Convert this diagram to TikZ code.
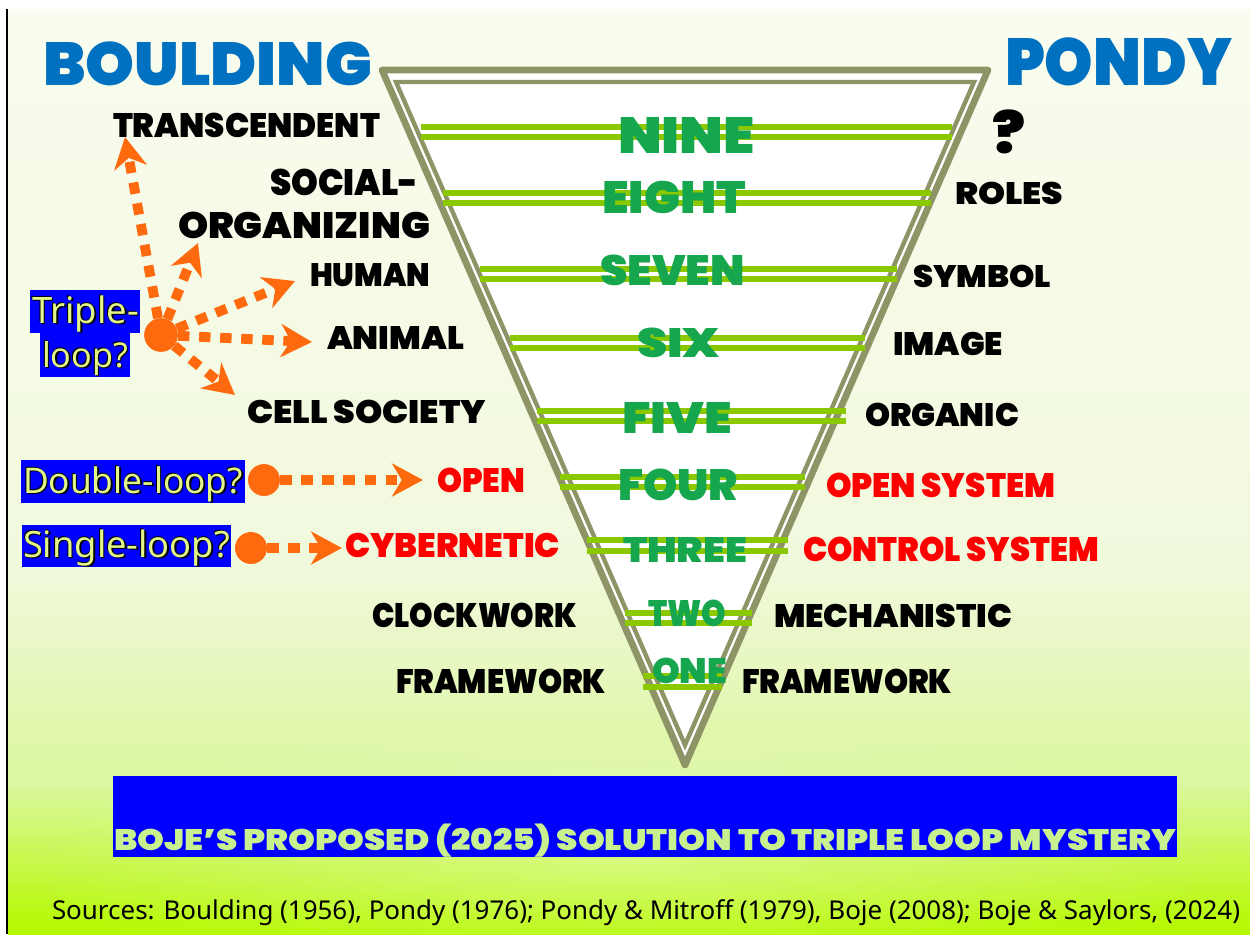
\documentclass[tikz,border=0pt]{standalone}
\usepackage{fontspec}
\usepackage{graphicx}
\usetikzlibrary{arrows.meta,fadings}

\newfontfamily\dispfont{Poppins}[UprightFont=* Black]
\newfontfamily\plainfont{Noto Sans}

% one drawing unit
\newlength\pxu \setlength\pxu{0.02cm}
\newlength\capht
% box whose height is the cap height of the current font
\newcommand\capbox[1]{\settoheight\capht{E}\raisebox{0pt}[\capht][0pt]{#1}}
% display text fitted to a given width and cap height
\newcommand\disp[3]{\resizebox{#1\pxu}{#2\pxu}{\dispfont\capbox{#3}}}
% light text with a dark edge
\newcommand\calltxt[1]{\plainfont\rlap{\color{black}\kern0.045em\raisebox{-0.045em}{#1}}\rlap{\color{black}\kern-0.02em\raisebox{0.02em}{#1}}\textcolor{calltext}{#1}}

\definecolor{bgA}{HTML}{F9FCEF}
\definecolor{bgB}{HTML}{F1F9DD}
\definecolor{bgC}{HTML}{DCF7A0}
\definecolor{bgD}{HTML}{B5F900}
\definecolor{trioli}{HTML}{8F9467}
\definecolor{titleblue}{HTML}{0070C0}
\definecolor{lvlgreen}{HTML}{16A64E}
\definecolor{barline}{HTML}{8CC800}
\definecolor{arrorange}{HTML}{FF6A0F}
\definecolor{calltext}{HTML}{E2F58A}
\definecolor{boxblue}{HTML}{0000FF}
\definecolor{bannertext}{HTML}{C8F08E}
\definecolor{hotred}{HTML}{FF0000}

\tikzfading[name=glowfade, inner color=transparent!0, outer color=transparent!100]

\tikzset{
  lbl/.style={anchor=base west, inner sep=0pt, outer sep=0pt},
  lvlbar/.style={barline, line width=3pt},
  orangearrow/.style={arrorange, line width=5.6pt, dash pattern=on 6.5pt off 5.5pt,
    -{Stealth[length=17.6pt, width=18.7pt, inset=5.5pt]}},
  dot/.style={circle, fill=arrorange, inner sep=0pt, minimum size=19pt},
}

\begin{document}
\begin{tikzpicture}[x=0.02cm, y=-0.02cm]
\useasboundingbox (0,0) rectangle (1250,934);
\fill[white] (0,0) rectangle (1250,934);

% background: vertical blend in three bands
\foreach \i in {0,...,29}{
  \pgfmathsetmacro\ya{9+\i*551/30}
  \pgfmathsetmacro\pc{100-100*\i/29}
  \fill[bgA!\pc!bgB] (8,\ya) rectangle (1250,\ya+19);
}
\foreach \i in {0,...,21}{
  \pgfmathsetmacro\ya{560+\i*220/22}
  \pgfmathsetmacro\pc{100-100*\i/21}
  \fill[bgB!\pc!bgC] (8,\ya) rectangle (1250,\ya+11);
}
\foreach \i in {0,...,21}{
  \pgfmathsetmacro\ya{780+\i*154/22}
  \pgfmathsetmacro\pc{100-100*\i/21}
  \fill[bgC!\pc!bgD] (8,\ya) rectangle (1250,\ya+8);
}
\begin{scope}
  \clip (8,9) rectangle (1250,934);
  \fill[white, opacity=0.28, path fading=glowfade] (620,860) ellipse [x radius=600, y radius=140];
\end{scope}
\draw[black, line width=0.9pt] (7,9) -- (7,934);

% inverted triangle, double outline
\coordinate (oTL) at (382,70);
\coordinate (oTR) at (988,70);
\coordinate (oB) at (685,765);
\coordinate (iTL) at (396,82);
\coordinate (iTR) at (974,82);
\coordinate (iB) at (685,745);
\filldraw[fill=white, draw=trioli, line width=3.8pt, line join=round] (oTL) -- (oTR) -- (oB) -- cycle;
\draw[trioli, line width=2.5pt] (iTL) -- (iTR) -- (iB) -- cycle;

% double bars across each level
\foreach \ya/\yb/\xl/\xr in {127/137/421/952, 193/203/443/931, 269/279/480/897,
    338/348/510/865, 411/421/537/846, 477/487/560/805, 540/551/587/788,
    613/623/625/752, 676/687/643/722}{
  \draw[lvlbar] (\xl,\ya) -- (\xr,\ya);
  \draw[lvlbar] (\xl,\yb) -- (\xr,\yb);
}

% level numbers
\node[lbl, text=lvlgreen] (lv9) at (618,153) {\disp{137}{36}{NINE}};
\node[lbl, text=lvlgreen] (lv8) at (602,213) {\disp{144}{32}{EIGHT}};
\node[lbl, text=lvlgreen] (lv7) at (600,285) {\disp{145}{30}{SEVEN}};
\node[lbl, text=lvlgreen] (lv6) at (637,357) {\disp{83}{29}{SIX}};
\node[lbl, text=lvlgreen] (lv5) at (622,433) {\disp{110}{31}{FIVE}};
\node[lbl, text=lvlgreen] (lv4) at (618,500) {\disp{120}{31}{FOUR}};
\node[lbl, text=lvlgreen] (lv3) at (623,562) {\disp{124}{25}{THREE}};
\node[lbl, text=lvlgreen] (lv2) at (648,626) {\disp{78}{26}{TWO}};
\node[lbl, text=lvlgreen] (lv1) at (652,683) {\disp{75}{25}{ONE}};

% column titles
\node[lbl, text=titleblue] (tBoulding) at (43,85) {\disp{329}{43}{BOULDING}};
\node[lbl, text=titleblue] (tPondy) at (1005,85) {\disp{227}{47}{PONDY}};

% Boulding levels
\node[lbl] (lTrans) at (113,137) {\disp{267}{24}{TRANSCENDENT}};
\node[lbl] (lSocial) at (270,195) {\disp{148}{26}{SOCIAL-}};
\node[lbl] (lOrg) at (178,238) {\disp{252}{26}{ORGANIZING}};
\node[lbl] (lHuman) at (310,286) {\disp{120}{23}{HUMAN}};
\node[lbl] (lAnimal) at (327,349) {\disp{137}{23}{ANIMAL}};
\node[lbl] (lCell) at (247,423) {\disp{239}{23}{CELL SOCIETY}};
\node[lbl, text=hotred] (lOpen) at (437,492) {\disp{88}{24}{OPEN}};
\node[lbl, text=hotred] (lCyber) at (345,557) {\disp{215}{24}{CYBERNETIC}};
\node[lbl] (lClock) at (372,627) {\disp{205}{24}{CLOCKWORK}};
\node[lbl] (lFrameL) at (396,693) {\disp{210}{24}{FRAMEWORK}};

% Pondy levels
\node[lbl] (rQ) at (992,153) {\disp{33}{40}{?}};
\node[lbl] (rRoles) at (955,204) {\disp{108}{22}{ROLES}};
\node[lbl] (rSymbol) at (913,287) {\disp{138}{22}{SYMBOL}};
\node[lbl] (rImage) at (893,355) {\disp{110}{23}{IMAGE}};
\node[lbl] (rOrganic) at (865,426) {\disp{154}{23}{ORGANIC}};
\node[lbl, text=hotred] (rOpenSys) at (826,497) {\disp{229}{24}{OPEN SYSTEM}};
\node[lbl, text=hotred] (rControl) at (803,561) {\disp{296}{24}{CONTROL SYSTEM}};
\node[lbl] (rMech) at (774,627) {\disp{238}{23}{MECHANISTIC}};
\node[lbl] (rFrameR) at (742,693) {\disp{210}{24}{FRAMEWORK}};

% loop call-outs
\fill[boxblue] (30,290) rectangle (140,333);
\fill[boxblue] (40,333) rectangle (130,377);
\fill[boxblue] (21,460) rectangle (245,503);
\fill[boxblue] (22,525) rectangle (231,567);
\node[lbl] (cTripleA) at (32,323) {\resizebox{107\pxu}{!}{\calltxt{Triple-}}};
\node[lbl] (cTripleB) at (42,367) {\resizebox{86\pxu}{!}{\calltxt{loop?}}};
\node[lbl] (cDouble) at (23,493) {\resizebox{220\pxu}{!}{\calltxt{Double-loop?}}};
\node[lbl] (cSingle) at (23,557) {\resizebox{207\pxu}{!}{\calltxt{Single-loop?}}};

% dots and dotted arrows
\node[dot] (dTriple) at (161,335) {};
\node[dot, minimum size=18pt] (dDouble) at (264,480) {};
\node[dot, minimum size=18pt] (dSingle) at (251,548) {};
\coordinate (aTrans) at (125,137);
\coordinate (aOrg) at (198,243);
\coordinate (aHuman) at (295,281);
\coordinate (aAnimal) at (312,342);
\coordinate (aCell) at (235,395);
\coordinate (aOpen) at (423,480);
\coordinate (aCyber) at (342,548);
\draw[orangearrow] (dTriple) -- (aTrans);
\draw[orangearrow] (dTriple) -- (aOrg);
\draw[orangearrow] (dTriple) -- (aHuman);
\draw[orangearrow] (dTriple) -- (aAnimal);
\draw[orangearrow] (dTriple) -- (aCell);
\draw[orangearrow] (dDouble) -- (aOpen);
\draw[orangearrow] (dSingle) -- (aCyber);
\node[dot] at (dTriple) {};
\node[dot, minimum size=18pt] at (dDouble) {};
\node[dot, minimum size=18pt] at (dSingle) {};

% banner
\fill[boxblue] (113,776) rectangle (1177,857);
\node[lbl, text=bannertext] (banner) at (114,850) {\disp{1062}{21}{BOJE’S PROPOSED (2025) SOLUTION TO TRIPLE LOOP MYSTERY}};

% sources line
\node[lbl] (sources) at (52,919) {\resizebox{1188\pxu}{!}{\plainfont Sources: Boulding (1956), Pondy (1976); Pondy \& Mitroff (1979), Boje (2008); Boje \& Saylors, (2024)}};
\end{tikzpicture}
\end{document}
